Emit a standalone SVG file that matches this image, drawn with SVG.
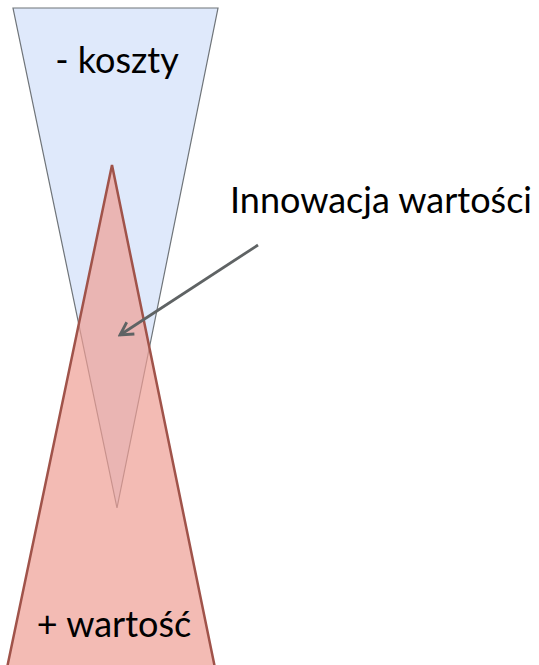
<svg xmlns="http://www.w3.org/2000/svg" width="539" height="665" viewBox="0 0 539 665">
  <defs>
    <style>
      .label { font-family: Lato, "Open Sans", "Liberation Sans", sans-serif; font-size: 36px; fill: #000; }
      .cost { fill: #dfe9fb; stroke: #6f7479; stroke-width: 1.2; }
      .value { fill: #ee9e94; fill-opacity: 0.7; stroke: #a0534a; stroke-width: 2.5; stroke-linejoin: miter; }
      .conn { fill: none; stroke: #5f6364; stroke-width: 2.8; }
    </style>
    <marker id="openArrow" viewBox="0 0 12 12" refX="10" refY="6" markerWidth="6" markerHeight="6" orient="auto" markerUnits="strokeWidth">
      <path d="M1,1 L10,6 L1,11" fill="none" stroke="#5f6364" stroke-width="2"/>
    </marker>
  </defs>

  <rect width="539" height="665" fill="#fff"/>

  <g id="costs">
    <polygon class="cost" points="13,8 218,8 117,508"/>
    <text class="label" x="117" y="73" text-anchor="middle">- koszty</text>
  </g>

  <g id="value">
    <polygon class="value" points="112,165 215,668 7,668"/>
    <text class="label" x="114" y="637" text-anchor="middle">+ wartość</text>
  </g>

  <g id="innovation">
    <text class="label" x="381" y="213" text-anchor="middle">Innowacja wartości</text>
  </g>

  <g id="connectors">
    <line class="conn" x1="258" y1="245" x2="120" y2="335" marker-end="url(#openArrow)"/>
  </g>
</svg>
